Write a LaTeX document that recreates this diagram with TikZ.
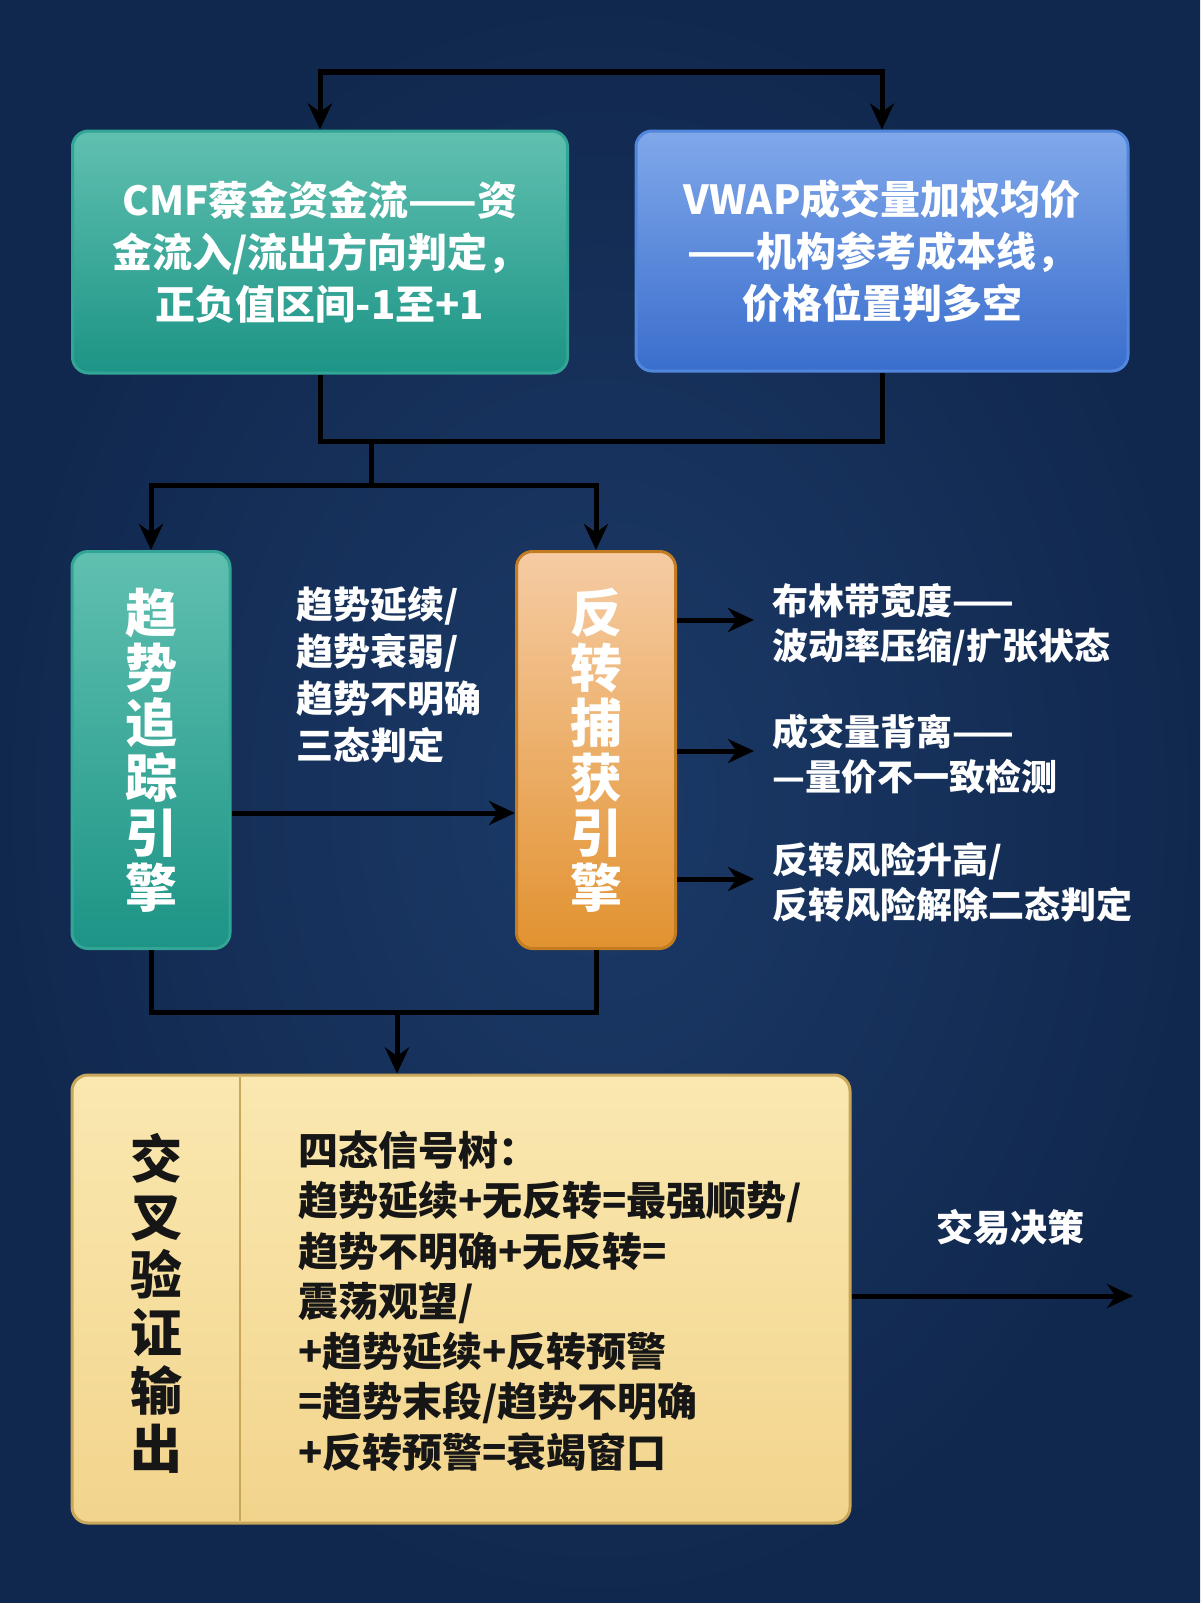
\documentclass[tikz,border=0pt]{standalone}
\usepackage{fontspec}
\newfontfamily\cjk{Noto Sans CJK SC}
\usetikzlibrary{arrows.meta}
\definecolor{bgin}{RGB}{27,58,104}
\definecolor{bgout}{RGB}{17,40,78}
\definecolor{tealtop}{RGB}{96,192,176}
\definecolor{tealbot}{RGB}{28,148,134}
\definecolor{tealedge}{RGB}{50,165,150}
\definecolor{bluetop}{RGB}{128,168,234}
\definecolor{bluebot}{RGB}{58,110,205}
\definecolor{blueedge}{RGB}{80,135,220}
\definecolor{orgtop}{RGB}{246,204,164}
\definecolor{orgbot}{RGB}{226,146,48}
\definecolor{orgedge}{RGB}{196,124,34}
\definecolor{yeltop}{RGB}{250,232,176}
\definecolor{yelbot}{RGB}{242,212,140}
\definecolor{yeledge}{RGB}{200,166,90}
\definecolor{txtdark}{RGB}{22,22,22}
\begin{document}
\begin{tikzpicture}[x=1pt,y=-1pt,
  boxbase/.style={rounded corners=16pt,line width=3pt,inner sep=0pt,text=white,align=center},
  tealbox/.style={boxbase,draw=tealedge,top color=tealtop,bottom color=tealbot},
  bluebox/.style={boxbase,draw=blueedge,top color=bluetop,bottom color=bluebot},
  orgbox/.style={boxbase,draw=orgedge,top color=orgtop,bottom color=orgbot},
  yelbox/.style={boxbase,draw=yeledge,top color=yeltop,bottom color=yelbot},
  boxtext/.style={font=\cjk\bfseries\fontsize{40}{52}\selectfont},
  vtext/.style={font=\cjk\bfseries\fontsize{52}{55}\selectfont,align=center,inner sep=0pt},
  sidetext/.style={font=\cjk\bfseries\fontsize{37}{47}\selectfont,text=white,align=left,anchor=west,inner sep=0pt},
  ln/.style={line width=5pt,draw=black},
  arr/.style={ln,-{Stealth[length=26pt,width=24pt]}}
]
\useasboundingbox (0,0) rectangle (1200,1603);
\shade[inner color=bgin,outer color=bgout] (0,0) rectangle (1200,1603);

% top boxes
\node[tealbox,boxtext,minimum width=495pt,minimum height=242pt] (cmf) at (320,252)
  {CMF蔡金资金流——资\\金流入/流出方向判定，\\正负值区间-1至+1};
\node[bluebox,boxtext,minimum width=492pt,minimum height=240pt] (vwap) at (882,251)
  {VWAP成交量加权均价\\——机构参考成本线，\\价格位置判多空};

% engines
\node[tealbox,minimum width=158pt,minimum height=397pt] (trend) at (151,750) {};
\node[vtext,text=white] (trendv) at (trend.center) {趋\\势\\追\\踪\\引\\擎};
\node[orgbox,minimum width=159pt,minimum height=397pt] (rev) at (596,750) {};
\node[vtext,text=white] (revv) at (rev.center) {反\\转\\捕\\获\\引\\擎};

\node[sidetext] (mid) at (296,675) {趋势延续/\\趋势衰弱/\\趋势不明确\\三态判定};

\node[sidetext,font=\cjk\bfseries\fontsize{36}{45}\selectfont] (r1) at (772,625) {布林带宽度——\\波动率压缩/扩张状态};
\node[sidetext,font=\cjk\bfseries\fontsize{36}{45}\selectfont] (r2) at (772,754) {成交量背离——\\—量价不一致检测};
\node[sidetext,font=\cjk\bfseries\fontsize{36}{45}\selectfont] (r3) at (772,882) {反转风险升高/\\反转风险解除二态判定};

% output box
\node[yelbox,minimum width=778pt,minimum height=448pt] (out) at (461,1299) {};
\draw[yeledge,line width=2.5pt] (240,1077) -- (240,1521);
\node[vtext,text=txtdark,font=\cjk\bfseries\fontsize{52}{58}\selectfont] (outv) at (156,1303) {交\\叉\\验\\证\\输\\出};
\node[sidetext,text=txtdark,font=\cjk\bfseries\fontsize{40}{50.3}\selectfont] (outt) at (298,1301)
  {四态信号树：\\趋势延续+无反转=最强顺势/\\趋势不明确+无反转=\\震荡观望/\\+趋势延续+反转预警\\=趋势末段/趋势不明确\\+反转预警=衰竭窗口};

\node[font=\cjk\bfseries\fontsize{37}{44}\selectfont,text=white] (dec) at (1010,1227) {交易决策};

% connectors
\coordinate (ty) at (0,72);
\draw[arr] (vwap.north |- ty) -- (cmf.north |- ty) -- (cmf.north);
\draw[arr] (cmf.north |- ty) -- (vwap.north |- ty) -- (vwap.north);

\coordinate (my) at (0,441);
\draw[ln] (cmf.south) -- (cmf.south |- my) -- (vwap.south |- my) -- (vwap.south);
\coordinate (sp) at (371,441);
\coordinate (sy) at (0,485);
\draw[arr] (sp) -- (sp |- sy) -| (trend.north);
\draw[arr] (sp |- sy) -| (rev.north);

\coordinate (ay) at (0,813);
\draw[arr] (trend.east |- ay) -- (rev.west |- ay);

\coordinate (a1) at (754,620);
\coordinate (a2) at (754,751);
\coordinate (a3) at (754,879);
\draw[arr] (rev.east |- a1) -- (a1);
\draw[arr] (rev.east |- a2) -- (a2);
\draw[arr] (rev.east |- a3) -- (a3);

\coordinate (by) at (0,1012);
\draw[ln] (trend.south) -- (trend.south |- by) -- (rev.south |- by) -- (rev.south);
\coordinate (bp) at (397,1012);
\draw[arr] (bp) -- (bp |- out.north);

\coordinate (endp) at (1133,1296);
\draw[arr] (out.east |- endp) -- (endp);
\end{tikzpicture}
\end{document}
